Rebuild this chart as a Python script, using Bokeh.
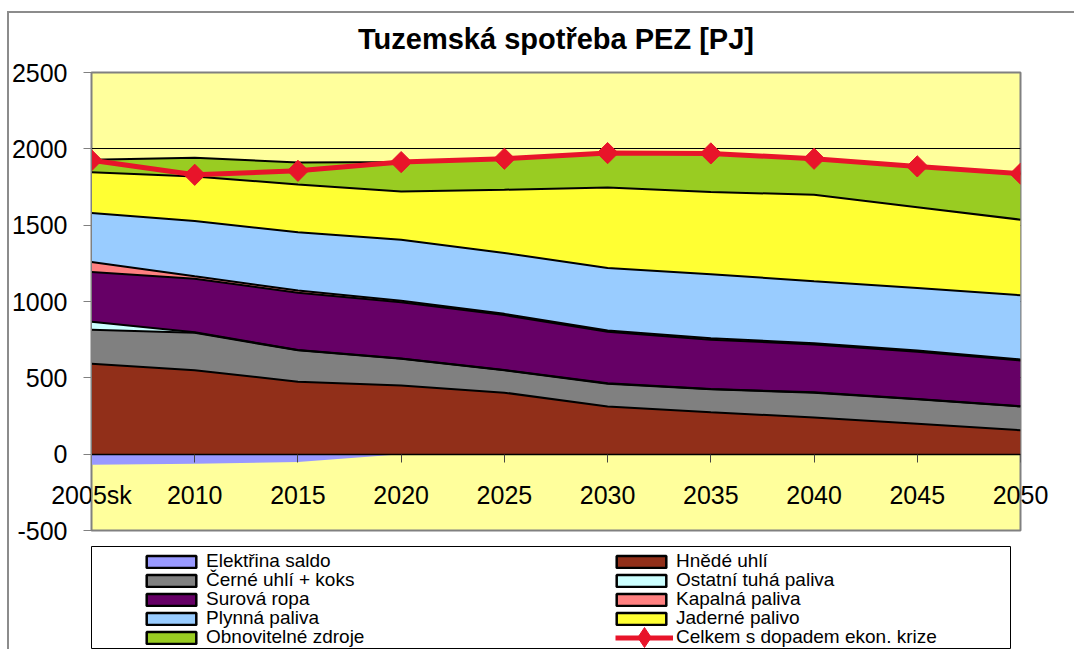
from math import pi
from bokeh.plotting import figure
from bokeh.layouts import column
from bokeh.models import (ColumnDataSource, FixedTicker, Range1d, Legend, LegendItem,
                          LinearAxis)
from bokeh.embed import file_html
from bokeh.resources import INLINE

# ---- data (PJ) ----
years = ["2005sk", "2010", "2015", "2020", "2025", "2030", "2035", "2040", "2045", "2050"]
elektrina_saldo = [-70, -62, -52, 0, 0, 0, 0, 0, 0, 0]
hnede_uhli = [593, 549, 475, 450, 403, 312, 275, 240, 200, 157]
cerne_uhli_koks = [222, 246, 205, 175, 146, 150, 150, 163, 159, 155]
ostatni_tuha_paliva = [52, 4, 2, 2, 2, 2, 2, 2, 2, 2]
surova_ropa = [327, 350, 375, 368, 360, 338, 323, 314, 310, 300]
kapalna_paliva = [65, 16, 15, 10, 8, 8, 10, 8, 8, 6]
plynna_paliva = [321, 363, 381, 400, 399, 410, 419, 406, 410, 421]
jaderne_palivo = [267, 290, 314, 316, 414, 527, 539, 566, 528, 495]
obnovitelne_zdroje = [81, 124, 144, 192, 203, 225, 252, 236, 268, 301]
celkem_krize = [1925, 1830, 1856, 1913, 1935, 1972, 1970, 1935, 1885, 1837]
y_ticks = [-500, 0, 500, 1000, 1500, 2000, 2500]

labels = {
    "saldo": "Elektřina saldo",
    "hnede": "Hnědé uhlí",
    "cerne": "Černé uhlí + koks",
    "ostatni": "Ostatní tuhá paliva",
    "ropa": "Surová ropa",
    "kapalna": "Kapalná paliva",
    "plynna": "Plynná paliva",
    "jaderne": "Jaderné palivo",
    "obnov": "Obnovitelné zdroje",
    "celkem": "Celkem s dopadem ekon. krize",
}
colors = {
    "saldo": "#9999FF",
    "hnede": "#912F19",
    "cerne": "#808080",
    "ostatni": "#CCFFFF",
    "ropa": "#660066",
    "kapalna": "#FF8080",
    "plynna": "#99CCFF",
    "jaderne": "#FFFF33",
    "obnov": "#99CC22",
    "celkem": "#E8142A",
}
FONT = "Liberation Sans"
NAN = float("nan")
PAGE_W = 1074

x = list(range(len(years)))
stack_keys = ["hnede", "cerne", "ostatni", "ropa", "kapalna", "plynna", "jaderne", "obnov"]
src = ColumnDataSource(dict(
    x=x, saldo=elektrina_saldo, zero=[0] * len(x),
    hnede=hnede_uhli, cerne=cerne_uhli_koks, ostatni=ostatni_tuha_paliva,
    ropa=surova_ropa, kapalna=kapalna_paliva, plynna=plynna_paliva,
    jaderne=jaderne_palivo, obnov=obnovitelne_zdroje, celkem=celkem_krize,
))

# ---- main chart ----
FL, FT, FW, FH, FB = 91, 72, 929, 458, 16       # plot-area placement on the page (px)
p1 = figure(frame_width=FW, frame_height=FH,
            x_range=Range1d(x[0], x[-1]), y_range=Range1d(y_ticks[0], y_ticks[-1]),
            output_backend="svg", toolbar_location=None, title="Tuzemská spotřeba PEZ [PJ]",
            min_border_left=FL, min_border_right=PAGE_W - FL - FW, min_border_top=FT,
            min_border_bottom=FB,
            background_fill_color="#FFFF9C", border_fill_alpha=0,
            outline_line_color="#808080", outline_line_width=2)
P1_BOTTOM = FT + FH + FB
p1.title.align = "center"
p1.title.text_font = FONT
p1.title.text_font_size = "29px"
p1.title.text_font_style = "bold"
p1.title.text_color = "black"
p1.title.standoff = 35

p1.varea(x="x", y1="zero", y2="saldo", source=src, fill_color=colors["saldo"])
p1.varea_stack(stackers=stack_keys, x="x", color=[colors[k] for k in stack_keys], source=src)
p1.vline_stack(stackers=stack_keys, x="x", color="black", line_width=2, source=src)
p1.line("x", "celkem", source=src, color=colors["celkem"], line_width=5)
p1.scatter("x", "celkem", source=src, marker="square", angle=pi / 4, size=15,
           fill_color=colors["celkem"], line_color=colors["celkem"])

p1.xgrid.visible = False
p1.ygrid.ticker = FixedTicker(ticks=y_ticks)
p1.ygrid.grid_line_color = "black"
p1.ygrid.grid_line_width = 1

yax = p1.yaxis[0]
yax.ticker = FixedTicker(ticks=y_ticks)
yax.major_label_overrides = {t: str(t) for t in y_ticks}
yax.major_label_text_font = FONT
yax.major_label_text_font_size = "25px"
yax.major_label_text_color = "black"
yax.major_tick_out = 8
yax.major_tick_in = 0
yax.minor_tick_line_color = None
yax.major_label_standoff = 16
yax.axis_line_color = "#808080"
yax.major_tick_line_color = "#808080"

# category labels, drawn up inside the plot area like the original
xax = p1.xaxis[0]
xax.ticker = FixedTicker(ticks=x)
xax.major_label_overrides = {i: s for i, s in zip(x, years)}
xax.major_label_text_font = FONT
xax.major_label_text_font_size = "25px"
xax.major_label_text_color = "black"
xax.major_tick_out = 0
xax.major_tick_in = 0
xax.minor_tick_line_color = None
xax.major_tick_line_color = None
xax.axis_line_color = None
xax.major_label_standoff = -50

# zero line with its tick marks
zero_axis = LinearAxis(fixed_location=0, ticker=FixedTicker(ticks=x),
                       major_label_overrides={i: "" for i in x},
                       major_tick_out=8, major_tick_in=0, minor_tick_line_color=None,
                       major_tick_line_color="#444444", axis_line_color="black",
                       axis_line_width=1.5)
p1.add_layout(zero_axis, "below")

# ---- legend panel ----
LX, LW, LH = 88, 919, 103
LT = P1_BOTTOM
p2 = figure(frame_width=LW, frame_height=LH, x_range=Range1d(0, 1), y_range=Range1d(0, 1),
            output_backend="svg", toolbar_location=None,
            x_axis_location=None, y_axis_location=None,
            min_border_left=LX, min_border_right=PAGE_W - LX - LW, min_border_top=0,
            min_border_bottom=0,
            background_fill_color="white", border_fill_alpha=0,
            outline_line_color="black", outline_line_width=1)
p2.grid.visible = False

dummy = {}
for k in ["saldo"] + stack_keys:
    dummy[k] = p2.quad(left=[NAN], right=[NAN], bottom=[NAN], top=[NAN], fill_color=colors[k],
                       line_color="black", line_width=2.5)
dummy_line = p2.line(x=[NAN], y=[NAN], color=colors["celkem"], line_width=5)
dummy_mark = p2.scatter(x=[NAN], y=[NAN], marker="diamond", size=20,
                        fill_color=colors["celkem"], line_color=colors["celkem"])
ghost = p2.quad(left=[NAN], right=[NAN], bottom=[NAN], top=[NAN], fill_alpha=0, line_alpha=0)

rows = [("saldo", "hnede"), ("cerne", "ostatni"), ("ropa", "kapalna"),
        ("plynna", "jaderne"), ("obnov", "celkem")]
ROW0, PITCH = 561, 19
SW_X = [137, 607]        # swatch box left (page px)
TX_X = [203, 673]        # label start (page px)
bottom_px = LT + LH


def legend(items, loc, **kw):
    opts = dict(padding=0, margin=0, border_line_color=None, background_fill_alpha=0,
                label_text_font=FONT, label_text_color="black")
    opts.update(kw)
    p2.add_layout(Legend(items=items, location=loc, **opts))


for r, pair in enumerate(rows):
    yc = ROW0 + r * PITCH
    for c, k in enumerate(pair):
        if k == "celkem":
            legend([LegendItem(label=" ", renderers=[dummy_line])],
                   (SW_X[c] + 5 - LX, bottom_px - yc - 7.5),
                   glyph_width=58, glyph_height=15, label_height=15, label_text_font_size="1px")
            legend([LegendItem(label=" ", renderers=[dummy_mark])],
                   (SW_X[c] + 34 - 25 - LX, bottom_px - yc - 25),
                   glyph_width=50, glyph_height=50, label_height=50, label_text_font_size="1px")
        else:
            legend([LegendItem(label=" ", renderers=[dummy[k]])],
                   (SW_X[c] - LX, bottom_px - yc - 7.5),
                   glyph_width=62, glyph_height=15, label_height=15, label_text_font_size="1px")
        legend([LegendItem(label=labels[k], renderers=[ghost])],
               (TX_X[c] - LX, bottom_px - yc - 17),
               glyph_width=0, glyph_height=1, label_standoff=0, label_height=34,
               label_text_font_size="19px")

# thin grey chart-area border along the left and top edges (painted under the canvases)
layout = column(p1, p2, styles={
    "box-shadow": "inset 7px 11px 0 0 #FFFFFF, inset 9px 13px 0 0 #8C8C8C",
    "background-color": "white",
})
open("out.html", "w").write(file_html(layout, INLINE))
